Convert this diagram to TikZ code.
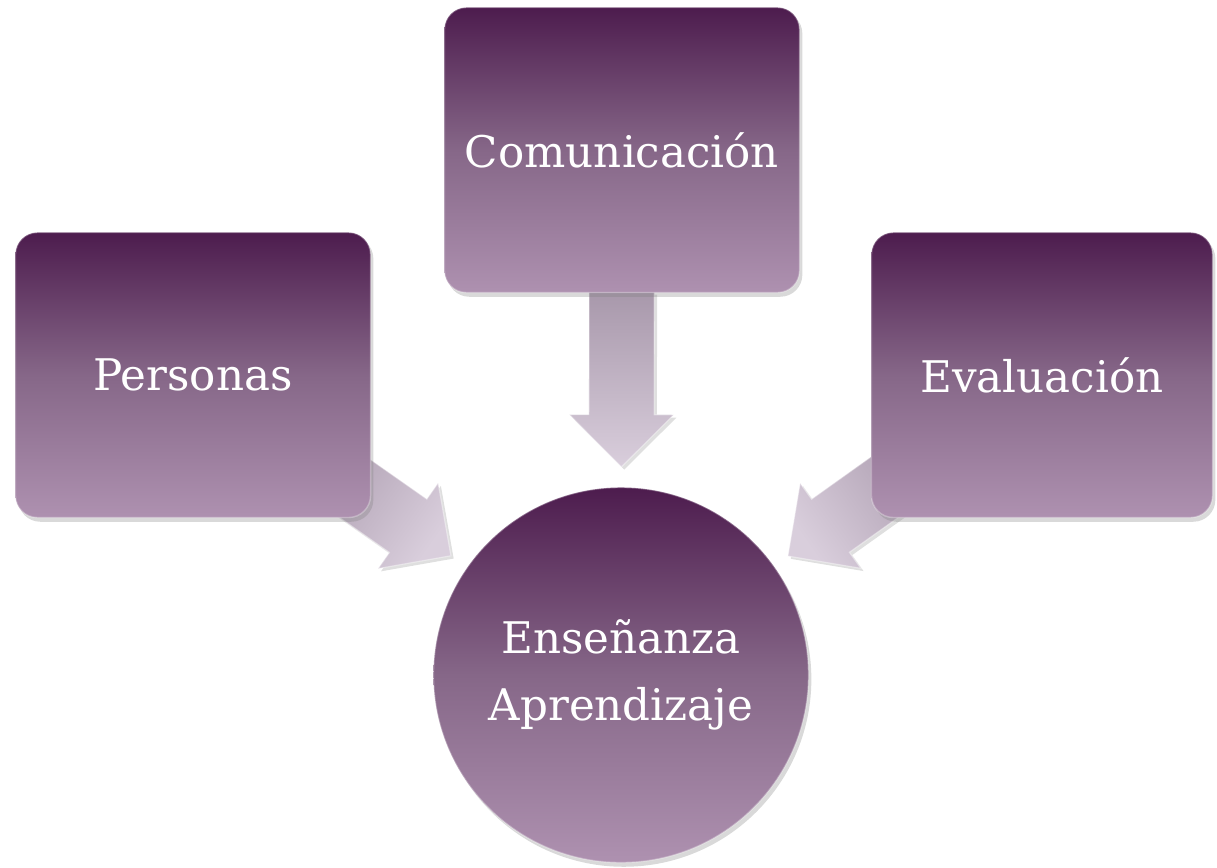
\documentclass[tikz,border=0pt]{standalone}
\usepackage{fontspec}
\setmainfont{DejaVu Serif}
\usetikzlibrary{shapes.arrows,shadows}
\pgfdeclarelayer{background}
\pgfsetlayers{background,main}

\definecolor{plumdark}{RGB}{77,28,78}
\definecolor{plummid}{RGB}{134,103,136}
\definecolor{plumlight}{RGB}{174,145,176}
\definecolor{flowbase}{RGB}{168,152,171}
\definecolor{flowtip}{RGB}{217,206,220}

\begin{document}
\begin{tikzpicture}[x=0.025cm,y=-0.025cm,
  topic/.style={rectangle,rounded corners=0.55cm,minimum width=8.875cm,minimum height=7.125cm,
    top color=plumdark,bottom color=plumlight,middle color=plummid,text=white,
    draw=white,draw opacity=0.3,line width=1pt,
    font=\fontsize{31}{48}\selectfont,
    drop shadow={shadow xshift=2pt,shadow yshift=-3pt,opacity=0.3}},
  hub/.style={topic,circle,minimum size=9.375cm,inner sep=0pt,align=center},
  flow/.style={single arrow,minimum height=4.375cm,inner sep=0.8cm,single arrow head extend=0.49cm,
    anchor=tip,sloped,allow upside down,top color=flowbase,bottom color=flowtip,
    draw=white,draw opacity=0.4,line width=0.8pt,
    drop shadow={shadow xshift=2pt,shadow yshift=-2pt,opacity=0.25}}]
\useasboundingbox (0,0) rectangle (1217,868);
\node[topic] (com) at (622,150) {Comunicación};
\node[topic] (pers) at (193,375) {Personas};
\node[topic,minimum width=8.525cm] (eval) at (1042,375) {Evaluación};
\node[hub] (ens) at (621,675) {Enseñanza\\Aprendizaje};
\begin{pgfonlayer}{background}
\path (com.center) -- node[flow,pos=0.605,shading angle=0] {} (ens.center);
\path (pers.center) -- node[flow,pos=0.604,shading angle=55] {} (ens.center);
\path (eval.center) -- node[flow,pos=0.605,shading angle=-55] {} (ens.center);
\end{pgfonlayer}
\end{tikzpicture}
\end{document}
